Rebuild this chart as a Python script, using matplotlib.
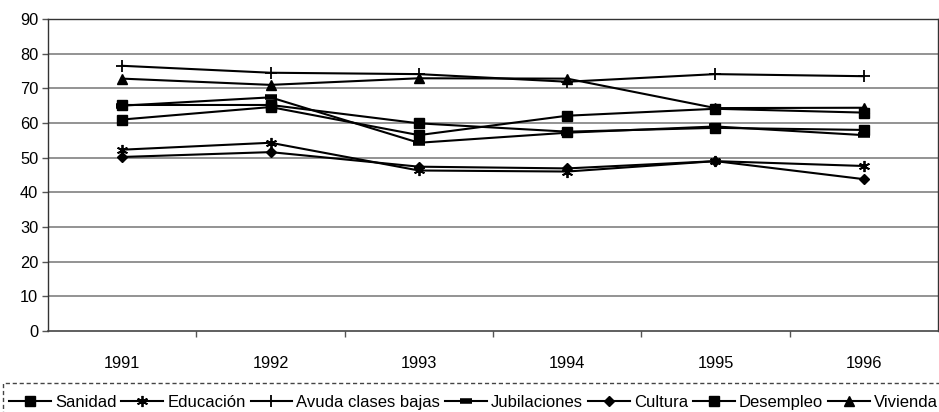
import numpy as np
import matplotlib
matplotlib.use("Agg")
import matplotlib.pyplot as plt
from matplotlib.ticker import FixedLocator
from matplotlib.patches import Rectangle

plt.rcParams["font.family"] = ["Liberation Sans", "DejaVu Sans"]

# data
years = ["1991", "1992", "1993", "1994", "1995", "1996"]
sanidad = [65.2, 65.2, 59.9, 57.5, 58.6, 58.0]
educacion = [52.3, 54.3, 46.3, 46.0, 49.0, 47.6]
ayuda = [76.5, 74.5, 74.1, 71.9, 74.1, 73.5]
jubilaciones = [65.0, 67.4, 54.3, 57.2, 59.0, 56.5]
cultura = [50.2, 51.6, 47.4, 46.9, 49.0, 43.8]
desempleo = [61.0, 64.6, 56.5, 62.1, 64.1, 63.0]
vivienda = [72.8, 71.0, 72.9, 72.8, 64.3, 64.4]

labels = ["Sanidad", "Educación", "Avuda clases bajas", "Jubilaciones",
          "Cultura", "Desempleo", "Vivienda"]
series = [sanidad, educacion, ayuda, jubilaciones, cultura, desempleo, vivienda]
markers = ["s", (6, 2, 0), "+", "_", "D", "s", "^"]
msizes = [6.5, 8, 9, 9, 5, 6.5, 7]
mews = [1, 1.3, 1.3, 4, 1, 1, 1]

fig = plt.figure(figsize=(9.39, 4.12), dpi=100)
ax = fig.add_axes([48 / 939, 1 - 331 / 412, 890 / 939, 312 / 412])

x = np.arange(len(years))
for vals, lab, m, ms, mew in zip(series, labels, markers, msizes, mews):
    ax.plot(x, vals, color="black", lw=1.5, marker=m, markersize=ms,
            markeredgewidth=mew, markerfacecolor="black",
            markeredgecolor="black", label=lab)

ax.set_xlim(-0.5, len(years) - 0.5)
ax.set_ylim(0, 90)
ax.set_yticks(range(0, 91, 10))
ax.set_xticks(x)
ax.set_xticklabels(years)
ax.xaxis.set_minor_locator(FixedLocator(np.arange(0.5, len(years) - 1, 1.0)))
ax.tick_params(axis="x", which="major", length=0, pad=18, labelsize=11.8)
ax.tick_params(axis="x", which="minor", length=4, width=1, color="#555555", direction="out")
ax.tick_params(axis="y", length=4, width=1, color="#555555", labelsize=11.8, pad=3)

for v in range(10, 90, 10):
    ax.axhline(v, color="#808080", lw=1.2, zorder=0)

for side in ["top", "left", "right"]:
    ax.spines[side].set_linestyle((0, (1, 1)))
    ax.spines[side].set_color("#333333")
    ax.spines[side].set_linewidth(1)
ax.spines["bottom"].set_color("#444444")
ax.spines["bottom"].set_linewidth(1.2)

# legend row, partly cut off at the bottom edge like the scan
fig.legend(loc="upper left", bbox_to_anchor=(9 / 939, 1 - 395 / 412),
           ncol=7, fontsize=12, handlelength=2.5, handletextpad=0.25,
           columnspacing=0.3, borderpad=0, borderaxespad=0, frameon=False)
fig.patches.append(Rectangle((3 / 939, -0.1), 940 / 939, 0.1 + (412 - 383) / 412,
                             transform=fig.transFigure, fill=False,
                             edgecolor="#444444", lw=1, ls=(0, (3, 2))))

fig.savefig("out.png", dpi=100)
